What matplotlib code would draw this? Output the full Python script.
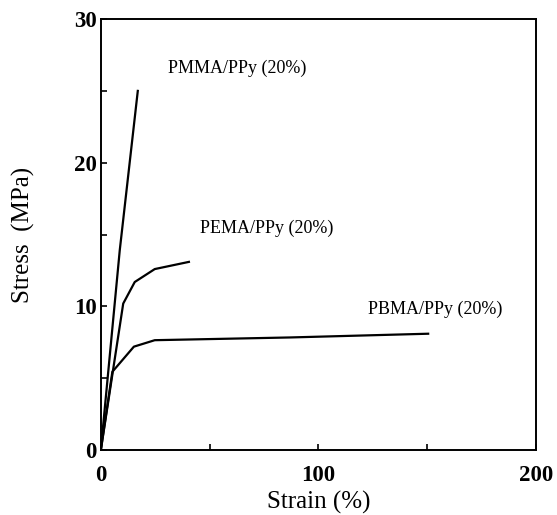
import matplotlib
matplotlib.use('Agg')
import matplotlib.pyplot as plt
from matplotlib.ticker import MultipleLocator

# strain (%) / stress (MPa)
pmma_strain = [0, 8.7, 17.0]
pmma_stress = [0, 13.9, 25.0]
pema_strain = [0, 10.3, 15.6, 24.8, 40.5]
pema_stress = [0, 10.2, 11.7, 12.6, 13.1]
pbma_strain = [0, 5.3, 15.2, 24.8, 86.9, 150.5]
pbma_stress = [0, 5.45, 7.2, 7.65, 7.84, 8.1]

labels = ['PMMA/PPy (20%)', 'PEMA/PPy (20%)', 'PBMA/PPy (20%)']
label_pos = [(30.9, 26.6), (45.5, 15.45), (122.8, 9.8)]

plt.rcParams['font.family'] = ['Liberation Serif', 'DejaVu Serif']

fig = plt.figure(figsize=(5.57, 5.15), dpi=100)
ax = fig.add_axes([0.181, 0.126, 0.781, 0.837])

for x, y in [(pmma_strain, pmma_stress), (pema_strain, pema_stress), (pbma_strain, pbma_stress)]:
    ax.plot(x, y, color='black', lw=1.6, solid_joinstyle='round')

for text, (x, y) in zip(labels, label_pos):
    ax.text(x, y, text, fontsize=13, ha='left', va='center')

ax.set_xlim(0, 200)
ax.set_ylim(0, 30)
ax.xaxis.set_major_locator(MultipleLocator(100))
ax.xaxis.set_minor_locator(MultipleLocator(50))
ax.yaxis.set_major_locator(MultipleLocator(10))
ax.yaxis.set_minor_locator(MultipleLocator(5))
ax.tick_params(which='both', direction='in', length=4, width=1.2, top=False, right=False)
ax.tick_params(axis='x', which='major', pad=11, labelsize=16.5)
ax.tick_params(axis='y', which='major', pad=3, labelsize=16.5)
for lab in ax.get_xticklabels() + ax.get_yticklabels():
    lab.set_fontweight('bold')
for sp in ax.spines.values():
    sp.set_linewidth(1.4)

ax.set_xlabel('Strain (%)', fontsize=18, labelpad=3)
ax.set_ylabel('Stress  (MPa)', fontsize=18, labelpad=28)

plt.savefig('out.png', dpi=100)
